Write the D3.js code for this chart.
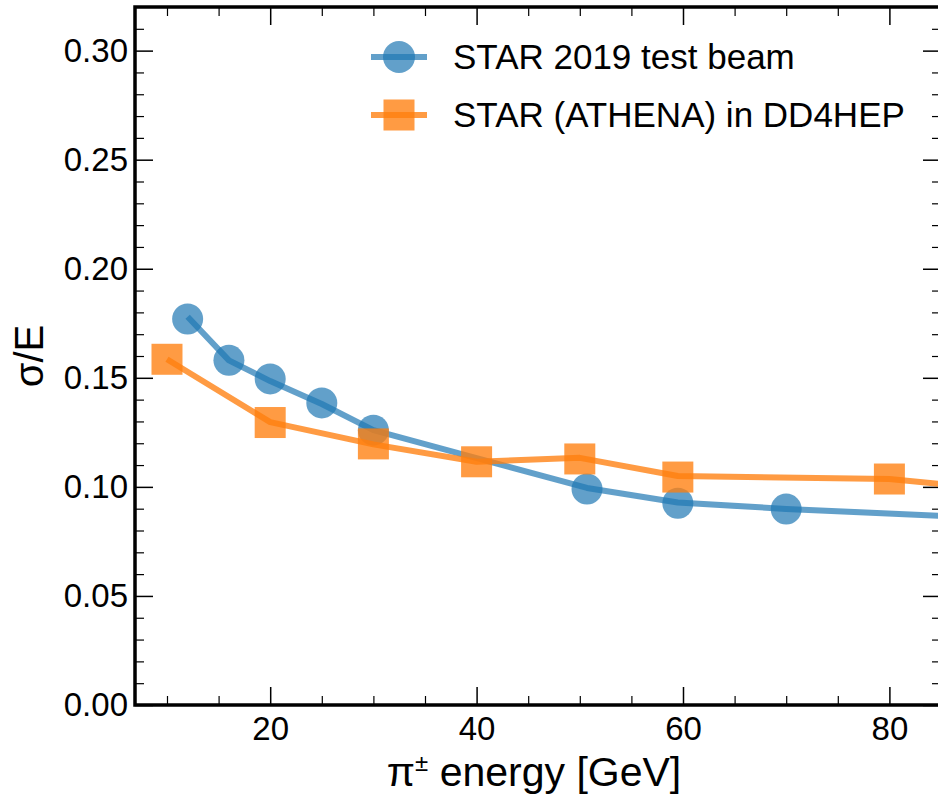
<!DOCTYPE html>
<html>
<head>
<meta charset="utf-8">
<script src="https://cdn.jsdelivr.net/npm/d3@7"></script>
<style>
  html, body { margin: 0; padding: 0; background: #fff; }
  svg { display: block; }
  text { font-family: "Liberation Sans", Arial, Helvetica, sans-serif; fill: #000; }
</style>
</head>
<body>
<svg id="chart" width="938" height="797"></svg>
<script>
// ---- data ----
const seriesNames = ["STAR 2019 test beam", "STAR (ATHENA) in DD4HEP"];

// STAR 2019 test beam: markers
const beamEnergy = [12, 16, 20, 25, 30, 50.7, 59.5, 70];
const beamRes    = [0.177, 0.158, 0.1495, 0.1385, 0.126, 0.099, 0.0925, 0.0898];
// STAR 2019 test beam: curve drawn through them
const beamLineEnergy = [12, 16, 20, 25, 30, 40, 50.7, 59.5, 70, 85];
const beamLineRes    = [0.178, 0.158, 0.1485, 0.138, 0.126, 0.1132, 0.0995, 0.0928, 0.0899, 0.0867];

// STAR (ATHENA) in DD4HEP: markers
const simEnergy = [10, 20, 30, 40, 50, 59.5, 80];
const simRes    = [0.1585, 0.1295, 0.1197, 0.1115, 0.1128, 0.1045, 0.1036];
// STAR (ATHENA) in DD4HEP: curve
const simLineEnergy = [10, 20, 30, 40, 50, 59.5, 80, 85];
const simLineRes    = [0.1585, 0.1297, 0.1195, 0.1115, 0.1133, 0.105, 0.1036, 0.1013];

const xMajorTicks = [20, 40, 60, 80];
const xMinorTicks = [10, 15, 25, 30, 35, 45, 50, 55, 65, 70, 75, 85];
const yMajorTicks = [0.00, 0.05, 0.10, 0.15, 0.20, 0.25, 0.30];
const yMinorTicks = [0.01,0.02,0.03,0.04,0.06,0.07,0.08,0.09,0.11,0.12,0.13,0.14,
                     0.16,0.17,0.18,0.19,0.21,0.22,0.23,0.24,0.26,0.27,0.28,0.29,0.31];

const xLabel = ["π", "±", " energy [GeV]"];
const yLabel = "σ/E";

// ---- layout ----
const L = 135, R = 941, T = 7, B = 705;
const svg = d3.select("#chart");
const x = d3.scaleLinear().domain([6.9, 85]).range([L, R]);
const y = d3.scaleLinear().domain([0, 0.32]).range([B, T]);

const blue = "#1f77b4", orange = "#ff7f0e";
const blueA = 0.7, orangeA = 0.78;

svg.append("defs").append("clipPath").attr("id", "clip")
  .append("rect").attr("x", L).attr("y", T).attr("width", R - L).attr("height", B - T);

// ---- axes (ticks inward on all sides) ----
function styleAxis(g, w) {
  g.select(".domain").remove();
  g.selectAll(".tick line").attr("stroke", "#000").attr("stroke-width", w);
}
const tickFont = 33;

svg.append("g").attr("transform", `translate(0,${B})`)
  .call(d3.axisBottom(x).tickValues(xMajorTicks).tickSize(-18).tickPadding(12).tickFormat(d3.format("d")))
  .call(g => styleAxis(g, 1.5))
  .call(g => g.selectAll("text").style("font-size", tickFont + "px").attr("fill", "#000"));
svg.append("g").attr("transform", `translate(0,${B})`)
  .call(d3.axisBottom(x).tickValues(xMinorTicks).tickSize(-9).tickFormat(""))
  .call(g => styleAxis(g, 1.2));
svg.append("g").attr("transform", `translate(0,${T})`)
  .call(d3.axisTop(x).tickValues(xMajorTicks).tickSize(-18).tickFormat(""))
  .call(g => styleAxis(g, 1.5));
svg.append("g").attr("transform", `translate(0,${T})`)
  .call(d3.axisTop(x).tickValues(xMinorTicks).tickSize(-9).tickFormat(""))
  .call(g => styleAxis(g, 1.2));

svg.append("g").attr("transform", `translate(${L},0)`)
  .call(d3.axisLeft(y).tickValues(yMajorTicks).tickSize(-18).tickPadding(7).tickFormat(d3.format(".2f")))
  .call(g => styleAxis(g, 1.5))
  .call(g => g.selectAll("text").style("font-size", tickFont + "px").attr("fill", "#000"));
svg.append("g").attr("transform", `translate(${L},0)`)
  .call(d3.axisLeft(y).tickValues(yMinorTicks).tickSize(-9).tickFormat(""))
  .call(g => styleAxis(g, 1.2));
svg.append("g").attr("transform", `translate(${R},0)`)
  .call(d3.axisRight(y).tickValues(yMajorTicks).tickSize(-18).tickFormat(""))
  .call(g => styleAxis(g, 1.5));
svg.append("g").attr("transform", `translate(${R},0)`)
  .call(d3.axisRight(y).tickValues(yMinorTicks).tickSize(-9).tickFormat(""))
  .call(g => styleAxis(g, 1.2));

// ---- data marks ----
const plot = svg.append("g").attr("clip-path", "url(#clip)");
const line = d3.line().x(d => x(d[0])).y(d => y(d[1]));

plot.selectAll("circle.beam").data(d3.zip(beamEnergy, beamRes)).join("circle")
  .attr("class", "beam").attr("cx", d => x(d[0])).attr("cy", d => y(d[1])).attr("r", 15.5)
  .attr("fill", blue).attr("fill-opacity", blueA);
plot.append("path").datum(d3.zip(beamLineEnergy, beamLineRes)).attr("d", line)
  .attr("fill", "none").attr("stroke", blue).attr("stroke-opacity", blueA)
  .attr("stroke-width", 6).attr("stroke-linejoin", "round");

const sq = 31;
plot.selectAll("rect.sim").data(d3.zip(simEnergy, simRes)).join("rect")
  .attr("class", "sim").attr("x", d => x(d[0]) - sq / 2).attr("y", d => y(d[1]) - sq / 2)
  .attr("width", sq).attr("height", sq)
  .attr("fill", orange).attr("fill-opacity", orangeA);
plot.append("path").datum(d3.zip(simLineEnergy, simLineRes)).attr("d", line)
  .attr("fill", "none").attr("stroke", orange).attr("stroke-opacity", orangeA)
  .attr("stroke-width", 6).attr("stroke-linejoin", "round");

// ---- frame ----
svg.append("rect").attr("x", L).attr("y", T).attr("width", R - L).attr("height", B - T)
  .attr("fill", "none").attr("stroke", "#000").attr("stroke-width", 3.5);

// ---- legend ----
const leg = svg.append("g");
const legY = [57, 115];
leg.append("circle").attr("cx", 399).attr("cy", legY[0]).attr("r", 16)
  .attr("fill", blue).attr("fill-opacity", blueA);
leg.append("line").attr("x1", 371).attr("x2", 427).attr("y1", legY[0]).attr("y2", legY[0])
  .attr("stroke", blue).attr("stroke-opacity", blueA).attr("stroke-width", 6);
leg.append("rect").attr("x", 399 - sq / 2).attr("y", legY[1] - sq / 2).attr("width", sq).attr("height", sq)
  .attr("fill", orange).attr("fill-opacity", orangeA);
leg.append("line").attr("x1", 371).attr("x2", 427).attr("y1", legY[1]).attr("y2", legY[1])
  .attr("stroke", orange).attr("stroke-opacity", orangeA).attr("stroke-width", 6);
leg.selectAll("text.leg").data(seriesNames).join("text").attr("class", "leg")
  .attr("x", 453).attr("y", (d, i) => legY[i]).attr("dy", "0.35em")
  .style("font-size", "35px").text(d => d);

// ---- axis labels ----
const xl = svg.append("text").attr("x", 534).attr("y", 786).attr("text-anchor", "middle")
  .style("font-size", "41px");
xl.append("tspan").text(xLabel[0]);
xl.append("tspan").attr("dy", -15).style("font-size", "24px").text(xLabel[1]);
xl.append("tspan").attr("dy", 15).text(xLabel[2]);

svg.append("text").attr("transform", `translate(43,356) rotate(-90)`).attr("text-anchor", "middle")
  .style("font-size", "40px").text(yLabel);
</script>
</body>
</html>
